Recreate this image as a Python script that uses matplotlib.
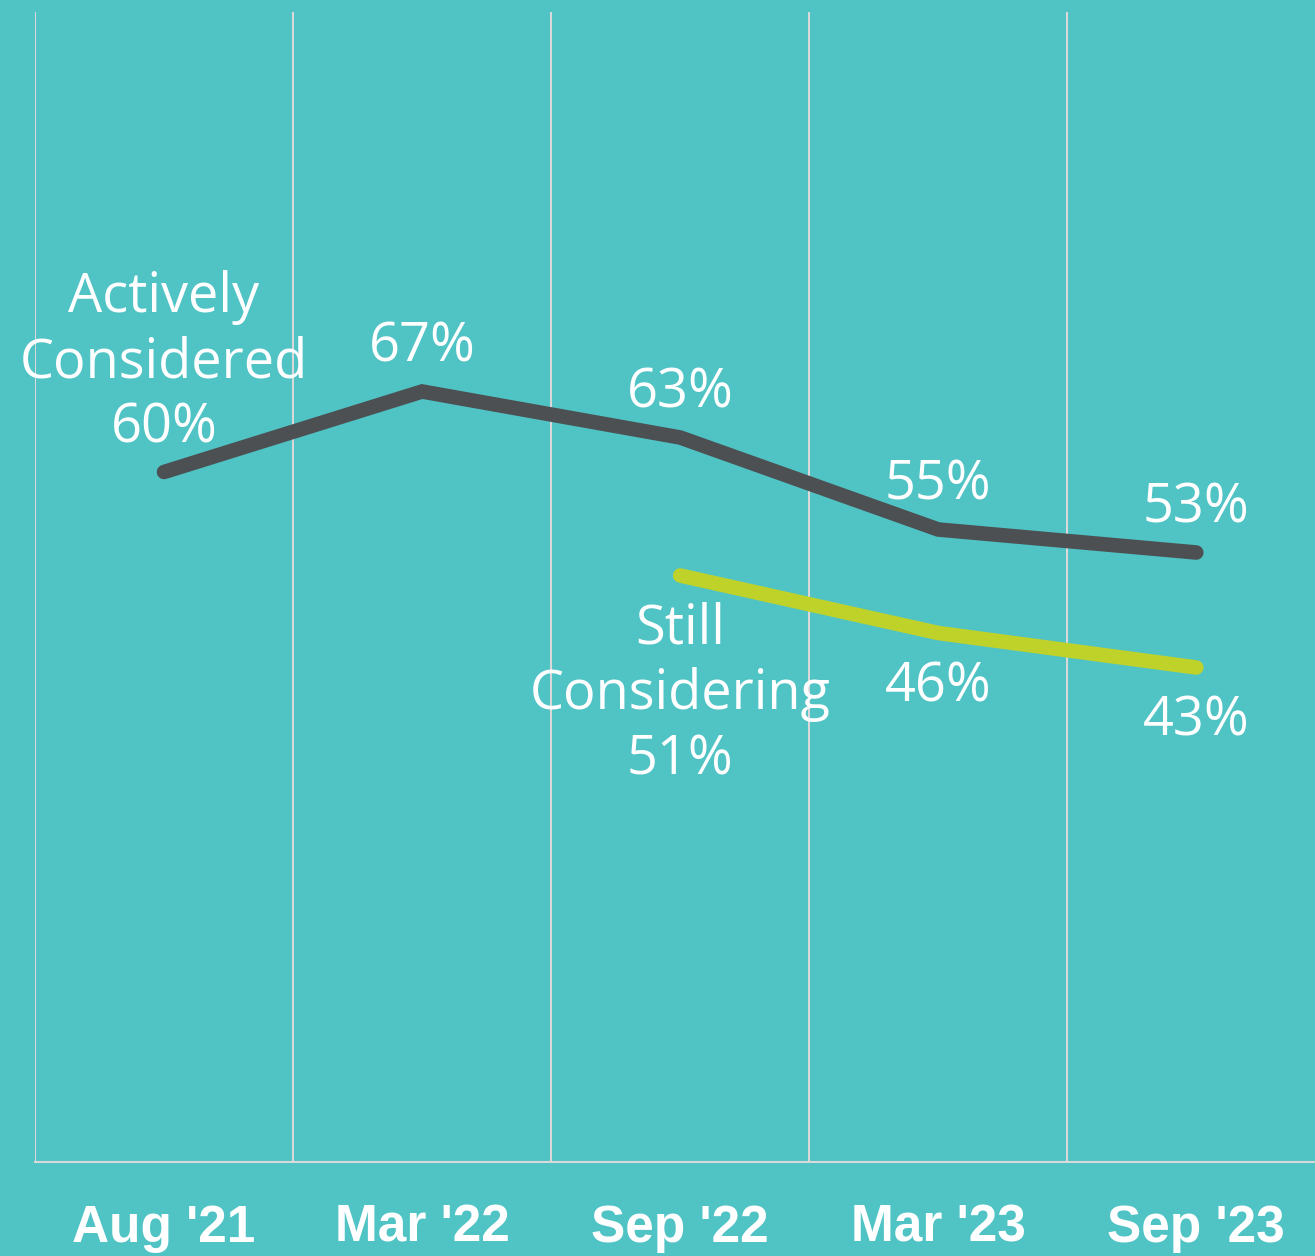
import matplotlib
matplotlib.use("Agg")
import matplotlib.pyplot as plt
import numpy as np

# data
periods = ["Aug '21", "Mar '22", "Sep '22", "Mar '23", "Sep '23"]
actively_considered = [60, 67, 63, 55, 53]
still_considering = [np.nan, np.nan, 51, 46, 43]

bg = "#50C3C5"
dark = "#4D5052"
green = "#BED22A"
grid_col = "#D9D9D9"

fig = plt.figure(figsize=(13.15, 12.56), dpi=100, facecolor=bg)
ax = fig.add_axes([35 / 1315, 94 / 1256, 1 - 35 / 1315, 1 - 106 / 1256])
ax.set_facecolor(bg)

x = np.arange(len(periods))
ax.plot(x, actively_considered, color=dark, lw=10.5, solid_capstyle="round", solid_joinstyle="miter", zorder=3)
ax.plot(x, still_considering, color=green, lw=10.5, solid_capstyle="round", solid_joinstyle="miter", zorder=3)

ax.set_xlim(-0.5, 4.46)
ax.set_ylim(0, 100)

# grid lines between categories
ax.set_xticks(x)
ax.set_xticks(np.arange(-0.5, len(periods) - 1, 1.0), minor=True)
ax.grid(which="minor", axis="x", color=grid_col, lw=1.5)
ax.tick_params(axis="x", which="both", length=0)
ax.tick_params(axis="x", which="major", pad=30)
ax.set_xticklabels(periods, fontsize=37, fontweight="bold", color="white", family="Liberation Sans")
ax.set_yticks([])
for s in ["top", "right", "left"]:
    ax.spines[s].set_visible(False)
ax.spines["bottom"].set_color(grid_col)
ax.spines["bottom"].set_linewidth(1.5)

lbl = dict(fontsize=39, color="white", family="Open Sans", ha="center", linespacing=1.24,
           textcoords="offset points")

# labels for actively considered (above)
for i, v in enumerate(actively_considered):
    txt = f"{v}%"
    if i == 0:
        txt = "Actively\nConsidered\n" + txt
    ax.annotate(txt, (x[i], v), xytext=(0, 12), va="bottom", **lbl)

# labels for still considering (below)
first = True
for i, v in enumerate(still_considering):
    if np.isnan(v):
        continue
    txt = f"{v:.0f}%"
    if first:
        txt = "Still\nConsidering\n" + txt
        first = False
    ax.annotate(txt, (x[i], v), xytext=(0, -19), va="top", **lbl)

fig.savefig("out.png", dpi=100, facecolor=bg)
